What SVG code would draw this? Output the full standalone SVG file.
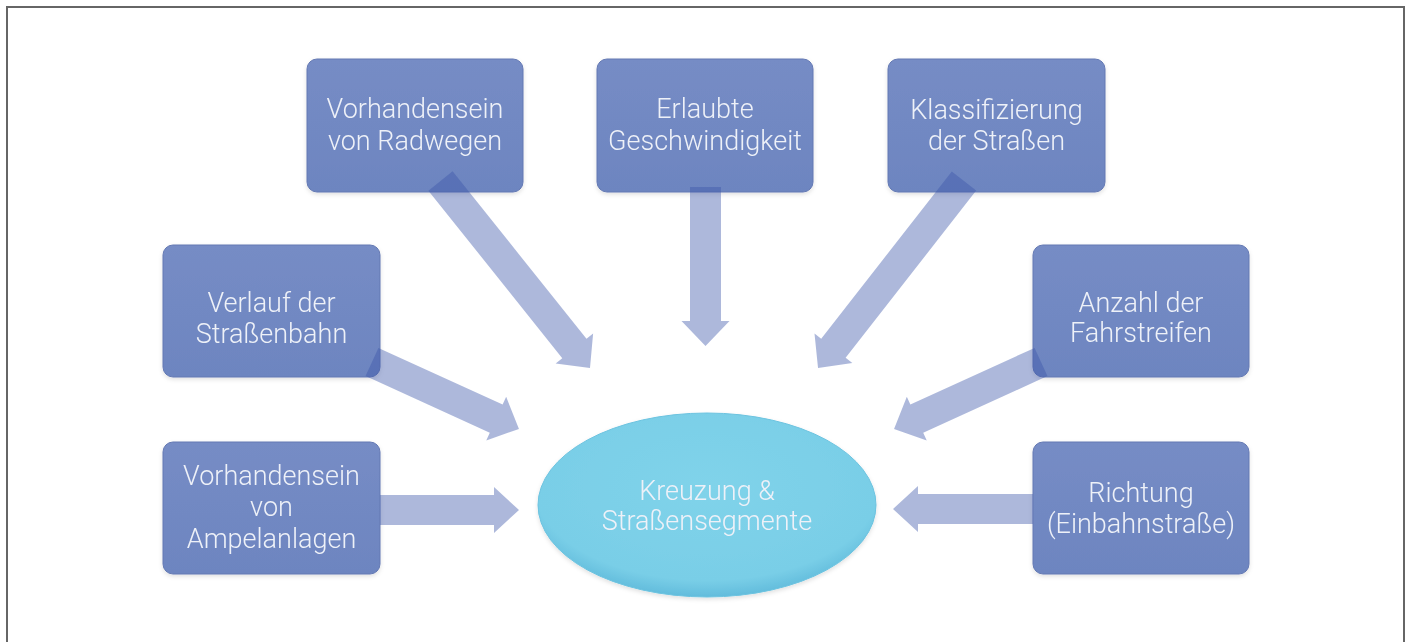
<svg xmlns="http://www.w3.org/2000/svg" width="1411" height="642" viewBox="0 0 1411 642">
<style>
.box{fill:url(#boxGrad);stroke:#6479b3;stroke-width:1}
.lbl{font-family:Roboto,"Liberation Sans",sans-serif;font-weight:300;font-size:27px;fill:#eef1f8;text-anchor:middle}
.arr{fill:#3c55aa;fill-opacity:0.42}
</style>
<defs>
<linearGradient id="boxGrad" x1="0" y1="0" x2="0" y2="1">
<stop offset="0" stop-color="#768cc5"/>
<stop offset="1" stop-color="#6d85c0"/>
</linearGradient>
<radialGradient id="ellGrad" cx="0.5" cy="0.4" r="0.6">
<stop offset="0" stop-color="#80d3ea"/>
<stop offset="0.85" stop-color="#79cee7"/>
<stop offset="1" stop-color="#62bcdc"/>
</radialGradient>
<filter id="sh" x="-10%" y="-10%" width="120%" height="125%">
<feDropShadow dx="0" dy="2" stdDeviation="2" flood-color="#000" flood-opacity="0.12"/>
</filter>
</defs>
<rect width="1411" height="642" fill="#ffffff"/>
<path d="M7,642 V7 H1404 V642" fill="none" stroke="#666666" stroke-width="2"/>

<g id="node-radwege" filter="url(#sh)">
<rect class="box" x="307" y="59" width="216" height="133" rx="10"/>
<text class="lbl" x="415" y="118">Vorhandensein</text>
<text class="lbl" x="415" y="150">von Radwegen</text>
</g>
<g id="node-geschwindigkeit" filter="url(#sh)">
<rect class="box" x="597" y="59" width="216" height="133" rx="10"/>
<text class="lbl" x="705" y="118">Erlaubte</text>
<text class="lbl" x="705" y="150">Geschwindigkeit</text>
</g>
<g id="node-klassifizierung" filter="url(#sh)">
<rect class="box" x="888" y="59" width="217" height="133" rx="10"/>
<text class="lbl" x="996.5" y="119">Klassifizierung</text>
<text class="lbl" x="996.5" y="150">der Straßen</text>
</g>
<g id="node-strassenbahn" filter="url(#sh)">
<rect class="box" x="163" y="245" width="217" height="132" rx="10"/>
<text class="lbl" x="271.5" y="312">Verlauf der</text>
<text class="lbl" x="271.5" y="343">Straßenbahn</text>
</g>
<g id="node-fahrstreifen" filter="url(#sh)">
<rect class="box" x="1033" y="245" width="216" height="132" rx="10"/>
<text class="lbl" x="1141" y="312">Anzahl der</text>
<text class="lbl" x="1141" y="342">Fahrstreifen</text>
</g>
<g id="node-ampel" filter="url(#sh)">
<rect class="box" x="163" y="442" width="217" height="132" rx="10"/>
<text class="lbl" x="271.5" y="485">Vorhandensein</text>
<text class="lbl" x="271.5" y="516">von</text>
<text class="lbl" x="271.5" y="548">Ampelanlagen</text>
</g>
<g id="node-richtung" filter="url(#sh)">
<rect class="box" x="1033" y="442" width="216" height="132" rx="10"/>
<text class="lbl" x="1141" y="502">Richtung</text>
<text class="lbl" x="1141" y="533">(Einbahnstraße)</text>
</g>
<g id="node-center" filter="url(#sh)">
<ellipse cx="707" cy="505" rx="169" ry="92" fill="url(#ellGrad)" stroke="#6cc3e0" stroke-width="1"/>
<text class="lbl" x="707" y="500">Kreuzung &amp;</text>
<text class="lbl" x="707" y="530">Straßensegmente</text>
</g>

<g id="connectors">
<polygon class="arr" transform="translate(440.5,181) rotate(51.36)" points="0,-15.5 214.4,-15.5 214.4,-24 239.4,0 214.4,24 214.4,15.5 0,15.5"/>
<polygon class="arr" transform="translate(705.5,187) rotate(90)" points="0,-15.5 134,-15.5 134,-24 159,0 134,24 134,15.5 0,15.5"/>
<polygon class="arr" transform="translate(964,181) rotate(127.98)" points="0,-15.5 212.2,-15.5 212.2,-24 237.2,0 212.2,24 212.2,15.5 0,15.5"/>
<polygon class="arr" transform="translate(372,362) rotate(24.5)" points="0,-15.5 136.5,-15.5 136.5,-24 161.5,0 136.5,24 136.5,15.5 0,15.5"/>
<polygon class="arr" transform="translate(1041,362) rotate(155.5)" points="0,-15.5 136.5,-15.5 136.5,-24 161.5,0 136.5,24 136.5,15.5 0,15.5"/>
<polygon class="arr" transform="translate(380,510)" points="0,-15 114,-15 114,-23 139,0 114,23 114,15 0,15"/>
<polygon class="arr" transform="translate(1033,509) rotate(180)" points="0,-15 115,-15 115,-23 140,0 115,23 115,15 0,15"/>
</g>
</svg>
